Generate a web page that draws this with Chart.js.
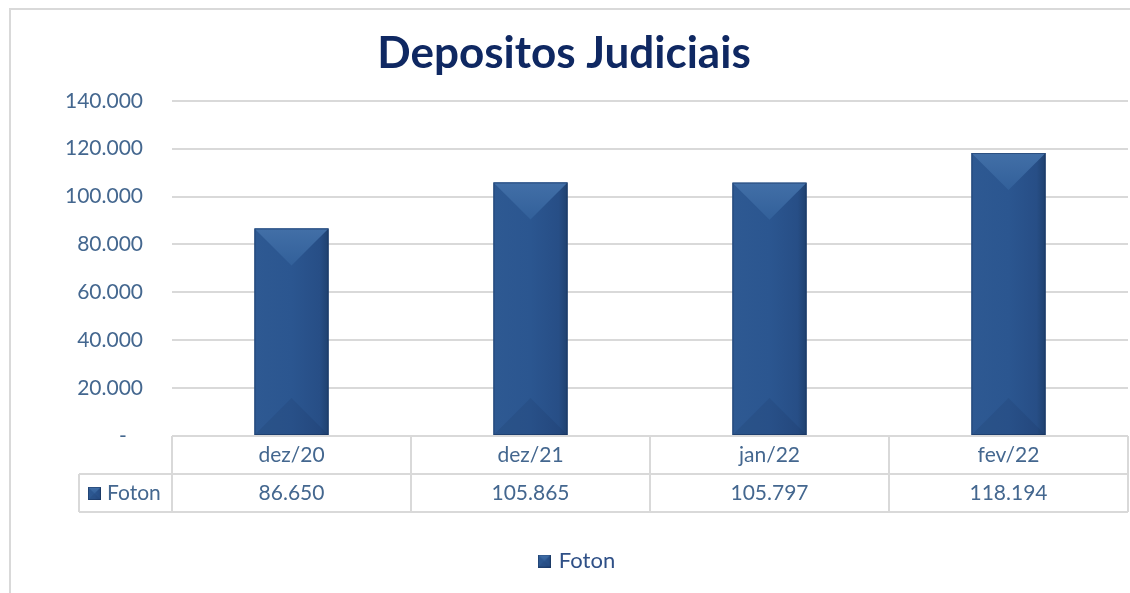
<!DOCTYPE html>
<html>
<head>
<meta charset="utf-8">
<script src="https://cdn.jsdelivr.net/npm/chart.js@4"></script>
<style>
  html, body { margin: 0; padding: 0; background: #fff; }
  #wrap { width: 1130px; height: 593px; }
</style>
</head>
<body>
<div id="wrap"><canvas id="chart" width="1130" height="593"></canvas></div>
<script>
// values
const categories = ["dez/20", "dez/21", "jan/22", "fev/22"]
const seriesName = "Foton"
const fotonValues = [86650, 105865, 105797, 118194]
const yTicks = [0, 20000, 40000, 60000, 80000, 100000, 120000, 140000]

const FONT = "Lato, 'Open Sans', sans-serif"
const TEXT_BLUE = "#44678f"
const LINE_GRAY = "#d9d9d9"

const fmt = (v) => String(Math.round(v)).replace(/\B(?=(\d{3})+(?!\d))/g, ".")

// bevelled box, used for the bars and for the legend swatch
const drawBevel = (ctx, left, top, right, bottom) => {
  const w = right - left
  const h = bottom - top
  const cx = left + w / 2
  const d = Math.min(w / 2, h / 2)

  const g = ctx.createLinearGradient(left, 0, right, 0)
  g.addColorStop(0, "#2e5992")
  g.addColorStop(0.5, "#2b5690")
  g.addColorStop(0.88, "#274e86")
  g.addColorStop(1, "#1f416f")
  ctx.fillStyle = g
  ctx.fillRect(left, top, w, h)

  // top facet
  const gt = ctx.createLinearGradient(0, top, 0, top + d)
  gt.addColorStop(0, "#426fa7")
  gt.addColorStop(1, "#32609a")
  ctx.fillStyle = gt
  ctx.beginPath()
  ctx.moveTo(left, top)
  ctx.lineTo(right, top)
  ctx.lineTo(cx, top + d)
  ctx.closePath()
  ctx.fill()

  // bottom facet
  ctx.fillStyle = "rgba(10, 25, 60, 0.09)"
  ctx.beginPath()
  ctx.moveTo(left, bottom)
  ctx.lineTo(right, bottom)
  ctx.lineTo(cx, bottom - d)
  ctx.closePath()
  ctx.fill()

  ctx.strokeStyle = "rgba(20, 45, 85, 0.45)"
  ctx.lineWidth = 1
  ctx.strokeRect(left + 0.5, top + 0.5, w - 1, h - 1)
}

const swatch = document.createElement("canvas")
swatch.width = 13
swatch.height = 13
drawBevel(swatch.getContext("2d"), 0, 0, 13, 13)

const framePlugin = {
  id: "frame",
  beforeDraw(chart) {
    const ctx = chart.ctx
    ctx.save()
    ctx.fillStyle = "#fff"
    ctx.fillRect(0, 0, chart.width, chart.height)
    ctx.strokeStyle = LINE_GRAY
    ctx.lineWidth = 2
    ctx.beginPath()
    ctx.moveTo(10, chart.height)
    ctx.lineTo(10, 9)
    ctx.lineTo(chart.width, 9)
    ctx.stroke()
    ctx.restore()
  },
}

// legend in the reference sits a little right of the canvas centre
const legendNudge = {
  id: "legendNudge",
  afterLayout(chart) {
    chart.legend.left += 14
    chart.legend.right += 14
  },
}

const bevelPlugin = {
  id: "bevel",
  afterDatasetsDraw(chart) {
    const ctx = chart.ctx
    ctx.save()
    chart.getDatasetMeta(0).data.forEach((bar) => {
      const p = bar.getProps(["x", "y", "base", "width"], true)
      drawBevel(ctx, p.x - p.width / 2, p.y, p.x + p.width / 2, p.base)
    })
    ctx.restore()
  },
}

// data table under the plot, positioned from the x scale
const tablePlugin = {
  id: "dataTable",
  afterDraw(chart) {
    const ctx = chart.ctx
    const xs = chart.scales.x
    const area = chart.chartArea
    const rowH = 38
    const top = area.bottom
    const mid = top + rowH
    const bot = top + rowH * 2
    const step = xs.getPixelForValue(1) - xs.getPixelForValue(0)
    const keyLeft = 79

    ctx.save()
    ctx.strokeStyle = LINE_GRAY
    ctx.lineWidth = 2
    ctx.beginPath()
    ctx.moveTo(area.left, top); ctx.lineTo(area.right, top)
    ctx.moveTo(keyLeft, mid); ctx.lineTo(area.right, mid)
    ctx.moveTo(keyLeft, bot); ctx.lineTo(area.right, bot)
    ctx.moveTo(keyLeft, mid); ctx.lineTo(keyLeft, bot)
    for (let i = 0; i <= categories.length; i++) {
      const x = xs.getPixelForValue(0) - step / 2 + i * step
      ctx.moveTo(x, top); ctx.lineTo(x, bot)
    }
    ctx.stroke()

    ctx.fillStyle = TEXT_BLUE
    ctx.font = "21px " + FONT
    ctx.textAlign = "center"
    ctx.textBaseline = "middle"
    categories.forEach((c, i) => {
      const x = xs.getPixelForValue(i)
      ctx.fillText(c, x, top + rowH / 2)
      ctx.fillText(fmt(fotonValues[i]), x, mid + rowH / 2)
    })

    ctx.drawImage(swatch, 88, mid + rowH / 2 - 6)
    ctx.textAlign = "left"
    ctx.fillText(seriesName, 107, mid + rowH / 2)
    ctx.restore()
  },
}

new Chart(document.getElementById("chart"), {
  type: "bar",
  data: {
    labels: categories,
    datasets: [
      {
        label: seriesName,
        data: fotonValues,
        backgroundColor: "#2b5690",
        borderWidth: 0,
        categoryPercentage: 1,
        barPercentage: 0.31,
      },
    ],
  },
  options: {
    responsive: false,
    animation: false,
    events: [],
    layout: { padding: { left: 0, right: 2, top: 0, bottom: 11 } },
    plugins: {
      title: {
        display: true,
        text: "Depositos Judiciais",
        color: "#0f2862",
        font: { family: FONT, size: 44, weight: "bold", lineHeight: 1.2 },
        padding: { top: 27, bottom: 21 },
      },
      legend: {
        display: true,
        position: "bottom",
        labels: {
          color: "#2f5087",
          font: { family: FONT, size: 22 },
          usePointStyle: true,
          pointStyle: swatch,
          boxWidth: 7,
          boxHeight: 13,
          padding: 10,
        },
      },
      tooltip: { enabled: false },
    },
    scales: {
      x: {
        grid: { display: false },
        border: { display: false },
        ticks: { display: false },
        afterFit: (scale) => { scale.height = 104 },
      },
      y: {
        min: 0,
        max: 140000,
        afterBuildTicks: (scale) => { scale.ticks = yTicks.map((v) => ({ value: v })) },
        grid: { color: LINE_GRAY, lineWidth: 2, drawTicks: false },
        border: { display: false },
        ticks: {
          color: TEXT_BLUE,
          font: { family: FONT, size: 21 },
          padding: 29,
          callback: (v) => (v === 0 ? "-   " : fmt(v)),
        },
        afterFit: (scale) => { scale.width = 172 },
      },
    },
  },
  plugins: [framePlugin, legendNudge, bevelPlugin, tablePlugin],
})
</script>
</body>
</html>
